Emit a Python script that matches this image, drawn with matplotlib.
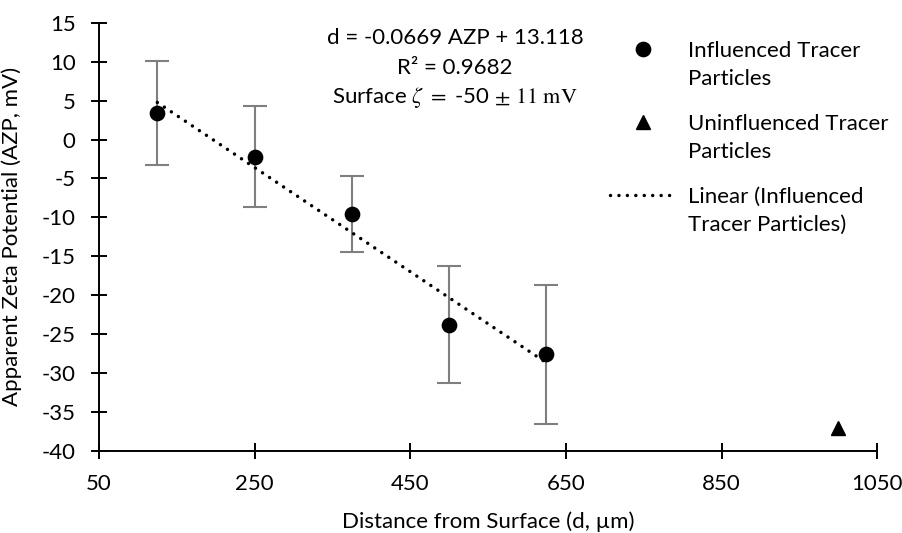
import numpy as np
import matplotlib
matplotlib.use("Agg")
import matplotlib.pyplot as plt

plt.rcParams['font.family'] = ['Lato', 'DejaVu Sans']
plt.rcParams['mathtext.fontset'] = 'stix'
plt.rcParams['axes.unicode_minus'] = False

# data
distance = [125, 250, 375, 500, 625]
azp = [3.4, -2.2, -9.6, -23.8, -27.6]
azp_err = [6.7, 6.5, 4.9, 7.5, 8.9]
uninfl_distance = [1000]
uninfl_azp = [-37.0]

x_ticks = [50, 250, 450, 650, 850, 1050]
y_ticks = [15, 10, 5, 0, -5, -10, -15, -20, -25, -30, -35, -40]

eq_lines = ["d = -0.0669 AZP + 13.118",
            "R\u00b2 = 0.9682",
            r"Surface $\zeta$ $=$ -50 $\pm$ $11\ \mathrm{mV}$"]

FS = 16

fig = plt.figure(figsize=(9.03, 5.33), dpi=100)
ax = fig.add_axes([0.1096, 0.1538, 0.8619, 0.8036])

# error bars + markers
ax.errorbar(distance, azp, yerr=azp_err, fmt='none', ecolor='#7f7f7f',
            elinewidth=1.5, capsize=8.6, capthick=1.5, zorder=2)
ax.plot(distance, azp, 'o', color='black', markersize=10.3, zorder=3,
        label='Influenced Tracer\nParticles')
ax.plot(uninfl_distance, uninfl_azp, '^', color='black', markersize=10.5,
        zorder=3, label='Uninfluenced Tracer\nParticles')

# linear trendline through the influenced points
coef = np.polyfit(distance, azp, 1)
xs = np.array([min(distance), max(distance)])
ax.plot(xs, np.polyval(coef, xs), color='black', lw=2.5,
        linestyle=(0, (0.01, 2.42)), dash_capstyle='round', zorder=4,
        label='Linear (Influenced\nTracer Particles)')

ax.set_xlim(50, 1050)
ax.set_ylim(-40, 15)
ax.set_xticks(x_ticks)
ax.set_yticks(y_ticks)
ax.tick_params(direction='inout', length=11, width=1.4, pad=11.3,
               labelsize=FS, color='black')
for s in ['top', 'right']:
    ax.spines[s].set_visible(False)
for s in ['left', 'bottom']:
    ax.spines[s].set_linewidth(1.4)

ax.set_xlabel('Distance from Surface (d, \u00b5m)', fontsize=FS)
ax.set_ylabel('Apparent Zeta Potential (AZP, mV)', fontsize=FS)
ax.xaxis.set_label_coords(0.5, -0.140)
ax.yaxis.set_label_coords(-0.099, 0.5)

# trendline equation
for txt, yy in zip(eq_lines, [0.964, 0.894, 0.825]):
    ax.text(0.4574, yy, txt, transform=ax.transAxes, ha='center',
            va='center', fontsize=FS)

leg = ax.legend(loc='upper left', bbox_to_anchor=(0.6566, 0.957),
                frameon=False, fontsize=FS, borderpad=0, borderaxespad=0,
                handlelength=3.0, handletextpad=0.5, labelspacing=1.1)
for t in leg.get_texts():
    t.set_linespacing(1.52)
# line the keys up with the first text line, as Excel does
for h in leg.legend_handles:
    h.set_ydata(np.asarray(h.get_ydata()) + 11.8)

fig.savefig('out.png', dpi=100)
